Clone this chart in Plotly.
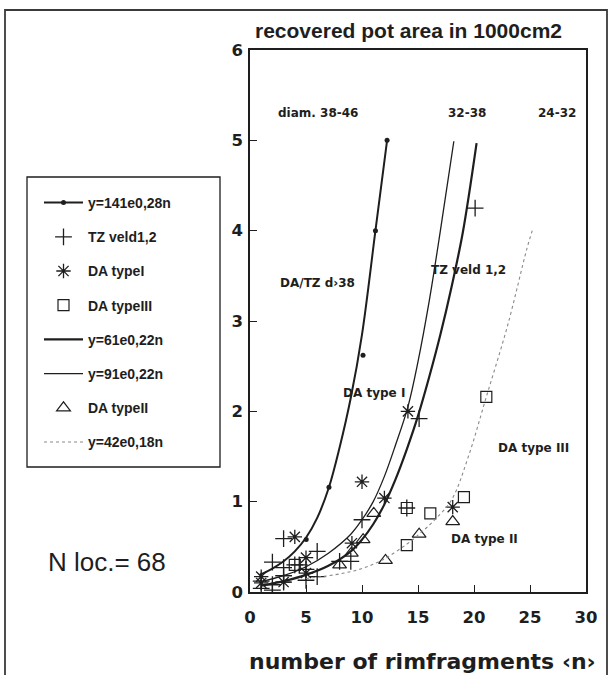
import plotly.graph_objects as go

# ---------------- data ----------------
# fitted curve y=141e0,28n (drawn line) and its dot markers
curveA_n = [0.85, 2.0, 3.0, 4.0, 5.0, 6.0, 7.05, 8.0, 9.0, 10.0, 11.2, 12.24]
curveA_y = [0.19, 0.26, 0.34, 0.45, 0.60, 0.82, 1.16, 1.60, 2.15, 2.85, 4.0, 5.0]
dotsA_n = [5.02, 7.05, 10.09, 11.2, 12.24]
dotsA_y = [0.58, 1.16, 2.62, 4.0, 5.0]

# curve y=91e0,22n (thin line)
curveB_n = [0.85, 3.0, 5.0, 7.0, 9.0, 10.0, 11.0, 12.0, 13.0, 14.1, 15.0, 16.0, 17.0, 18.2]
curveB_y = [0.11, 0.18, 0.28, 0.43, 0.64, 0.80, 1.0, 1.28, 1.63, 2.05, 2.55, 3.22, 4.0, 4.99]

# curve y=61e0,22n (thick line)
curveC_n = [1.0, 3.0, 5.0, 7.0, 9.0, 10.0, 11.0, 12.0, 13.0, 14.0, 15.0, 16.0, 17.0, 18.0,
            19.0, 20.23]
curveC_y = [0.07, 0.12, 0.19, 0.29, 0.45, 0.58, 0.75, 0.97, 1.25, 1.58, 1.95, 2.38, 2.85, 3.38,
            3.98, 4.97]

# curve y=42e0,18n (dotted grey line)
curveD_n = [5.0, 6.4, 8.0, 10.0, 11.9, 14.0, 15.2, 16.5, 18.0, 19.5, 21.1, 23.0, 24.7, 25.2]
curveD_y = [0.15, 0.17, 0.20, 0.26, 0.36, 0.53, 0.65, 0.80, 1.02, 1.50, 2.16, 2.95, 3.79, 4.0]

# TZ veld1,2 (plus)
tz_n = [1, 1, 2, 2, 2, 3, 3, 3, 3, 4, 4.4, 5, 5, 6, 6, 8, 9, 10, 14, 15.1, 20.1]
tz_y = [0.04, 0.12, 0.02, 0.08, 0.33, 0.11, 0.18, 0.27, 0.59, 0.30, 0.30, 0.13, 0.25, 0.17, 0.45,
        0.34, 0.34, 0.80, 0.93, 1.92, 4.25]

# DA typeI (asterisk)
da1_n = [1, 1, 3, 4, 5, 5, 9.1, 10, 12, 14.1, 18.1]
da1_y = [0.10, 0.17, 0.11, 0.61, 0.21, 0.38, 0.54, 1.22, 1.04, 2.0, 0.94]

# DA typeIII (open square)
da3_n = [4, 14, 14, 16.1, 19.1, 21.1]
da3_y = [0.30, 0.93, 0.52, 0.87, 1.05, 2.16]

# DA typeII (open triangle)
da2_n = [8, 9.05, 10.1, 11.05, 12.1, 15.1, 18.1]
da2_y = [0.30, 0.43, 0.58, 0.87, 0.35, 0.64, 0.78]

x_ticks = [0, 5, 10, 15, 20, 25, 30]
y_ticks = [0, 1, 2, 3, 4, 5, 6]

# ---------------- figure ----------------
W, H = 613, 675
ML, MR, MT, MB = 250, 27, 50, 83
PW, PH = W - ML - MR, H - MT - MB


def xp(px):
    return (px - ML) / PW


def yp(py):
    return (H - MB - py) / PH


def gaps(vals):
    out = []
    for i, v in enumerate(vals):
        if i:
            out.append(None)
        out.append(v)
    return out


INK = "#1e1e1e"
fig = go.Figure()

# curve A line (no legend) + dots (legend shows line + dot)
fig.add_trace(go.Scatter(x=curveA_n, y=curveA_y, mode="lines", showlegend=False,
                         line=dict(color=INK, width=2, shape="spline", smoothing=1),
                         hoverinfo="skip"))
fig.add_trace(go.Scatter(x=gaps(dotsA_n), y=gaps(dotsA_y), mode="lines+markers",
                         name="y=141e0,28n", legendgroup="a", legendrank=1,
                         connectgaps=False,
                         line=dict(color=INK, width=2),
                         marker=dict(symbol="circle", size=5, color=INK)))

fig.add_trace(go.Scatter(x=tz_n, y=tz_y, mode="markers", name="TZ veld1,2",
                         legendgroup="b", legendrank=2,
                         marker=dict(symbol="cross-thin", size=12,
                                     line=dict(color=INK, width=1.3))))

fig.add_trace(go.Scatter(x=da1_n, y=da1_y, mode="markers", name="DA typeI",
                         legendgroup="c", legendrank=3,
                         marker=dict(symbol="asterisk", size=12,
                                     line=dict(color=INK, width=1.3))))

fig.add_trace(go.Scatter(x=da3_n, y=da3_y, mode="markers", name="DA typeIII",
                         legendgroup="d", legendrank=4,
                         marker=dict(symbol="square-open", size=11, color=INK,
                                     line=dict(color=INK, width=1.2))))

fig.add_trace(go.Scatter(x=curveC_n, y=curveC_y, mode="lines", name="y=61e0,22n",
                         legendgroup="e", legendrank=5,
                         line=dict(color=INK, width=2.2, shape="spline", smoothing=1)))

fig.add_trace(go.Scatter(x=curveB_n, y=curveB_y, mode="lines", name="y=91e0,22n",
                         legendgroup="f", legendrank=6,
                         line=dict(color=INK, width=1.3, shape="spline", smoothing=1)))

fig.add_trace(go.Scatter(x=da2_n, y=da2_y, mode="markers", name="DA typeII",
                         legendgroup="g", legendrank=7,
                         marker=dict(symbol="triangle-up-open", size=12, color=INK,
                                     line=dict(color=INK, width=1.2))))

fig.add_trace(go.Scatter(x=curveD_n, y=curveD_y, mode="lines", name="y=42e0,18n",
                         legendgroup="h", legendrank=8,
                         line=dict(color="#8a8a8a", width=1.1, dash="dot",
                                   shape="spline", smoothing=1)))

SMALL = dict(family="DejaVu Sans", size=12, color=INK, weight="bold")
in_plot = [
    ("diam. 38-46", 6.04, 5.30),
    ("32-38", 19.37, 5.30),
    ("24-32", 27.4, 5.30),
    ("DA/TZ d\u203a38", 6.04, 3.42),
    ("TZ veld 1,2", 19.54, 3.57),
    ("DA type I", 11.05, 2.20),
    ("DA type III", 25.27, 1.59),
    ("DA type II", 20.97, 0.59),
]
annotations = [dict(text=t, x=x, y=y, xref="x", yref="y", showarrow=False,
                    font=SMALL, xanchor="center", yanchor="middle")
               for t, x, y in in_plot]

annotations += [
    dict(text="recovered pot area in 1000cm2", x=xp(253), y=yp(30), xref="paper",
         yref="paper", xanchor="left", yanchor="middle", showarrow=False,
         font=dict(family="Liberation Sans", size=21, color=INK, weight="bold")),
    dict(text="number of rimfragments \u2039n\u203a", x=xp(422), y=yp(661), xref="paper",
         yref="paper", xanchor="center", yanchor="middle", showarrow=False,
         font=dict(family="DejaVu Sans", size=22, color=INK, weight="bold")),
    dict(text="N loc.= 68", x=xp(107), y=yp(562), xref="paper", yref="paper",
         xanchor="center", yanchor="middle", showarrow=False,
         font=dict(family="Liberation Sans", size=26, color=INK)),
]

shapes = [
    # outer frame
    dict(type="rect", xref="paper", yref="paper", x0=xp(5), x1=xp(607), y0=yp(700), y1=yp(10),
         line=dict(color="#3a3a3a", width=1.8), fillcolor="rgba(0,0,0,0)", layer="below"),
    # legend frame
    dict(type="rect", xref="paper", yref="paper", x0=xp(27), x1=xp(220), y0=yp(467), y1=yp(177),
         line=dict(color=INK, width=1.3), fillcolor="rgba(0,0,0,0)"),
]

axis_common = dict(showline=True, linecolor=INK, linewidth=1.6, mirror=True,
                   ticks="inside", ticklen=7, tickwidth=1.4, tickcolor=INK,
                   showgrid=False, zeroline=False,
                   tickfont=dict(family="DejaVu Sans", size=16.5, color=INK, weight="bold"))

fig.update_layout(
    width=W, height=H,
    margin=dict(l=ML, r=MR, t=MT, b=MB, autoexpand=False),
    paper_bgcolor="white", plot_bgcolor="white",
    xaxis=dict(range=[0, 30], tickvals=x_ticks, ticklabelstandoff=9, **axis_common),
    yaxis=dict(range=[0, 6], tickvals=y_ticks, ticklabelstandoff=2, **axis_common),
    showlegend=True,
    legend=dict(x=xp(39), y=yp(187), xanchor="left", yanchor="top",
                bgcolor="rgba(0,0,0,0)", borderwidth=0,
                traceorder="grouped", tracegroupgap=13, itemwidth=39,
                font=dict(family="Liberation Sans", size=14, color=INK, weight="bold")),
    annotations=annotations,
    shapes=shapes,
)

fig.write_html("out.html", config={"displayModeBar": False},
               post_script="document.body.style.margin='0';document.body.style.padding='0';")
